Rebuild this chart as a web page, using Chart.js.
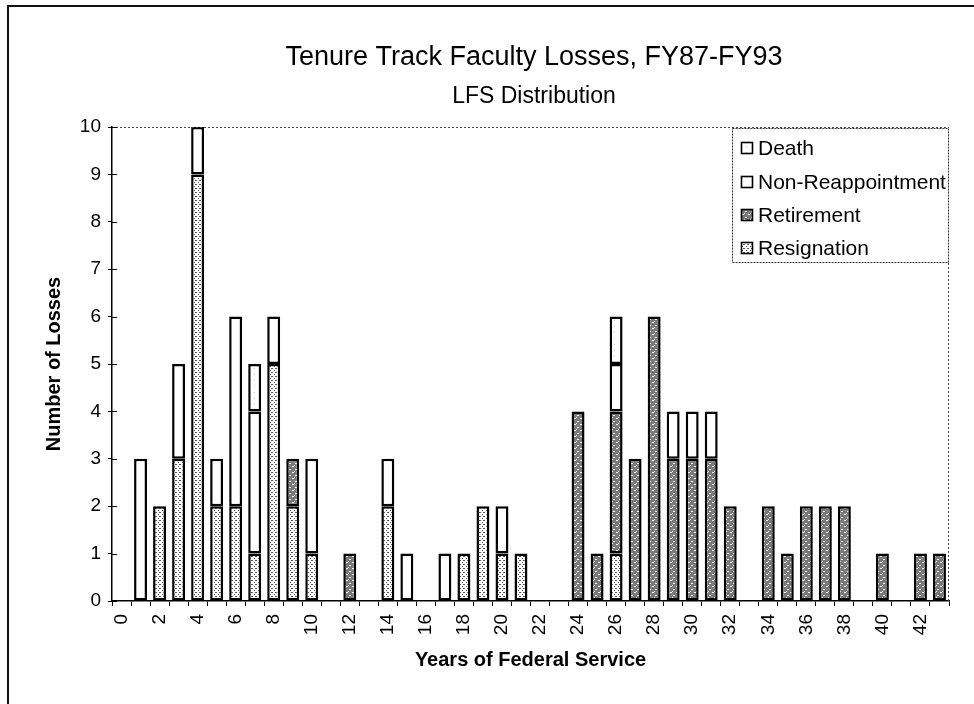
<!DOCTYPE html>
<html><head><meta charset="utf-8">
<script src="https://cdn.jsdelivr.net/npm/chart.js@4.4.1/dist/chart.umd.min.js"></script>
<style>
html,body{margin:0;padding:0;background:#fff;}
#wrap{position:relative;width:974px;height:704px;overflow:hidden;}
#frame{position:absolute;left:7px;top:5px;width:967px;height:699px;border-left:2px solid #111;border-top:2px solid #111;box-sizing:border-box;pointer-events:none;}
canvas{position:absolute;left:0;top:0;}
</style></head><body>
<div id="wrap"><canvas id="c" width="974" height="704"></canvas><div id="frame"></div></div>
<script>
const titleText = 'Tenure Track Faculty Losses, FY87-FY93';
const subtitleText = 'LFS Distribution';
const xAxisTitle = 'Years of Federal Service';
const yAxisTitle = 'Number of Losses';
const seriesNames = ['Resignation', 'Retirement', 'Non-Reappointment', 'Death'];

const years = [0,1,2,3,4,5,6,7,8,9,10,11,12,13,14,15,16,17,18,19,20,21,22,23,24,25,26,27,28,29,30,31,32,33,34,35,36,37,38,39,40,41,42,43];
//                   0 1 2 3 4 5 6 7 8 9 10 11 12 13 14 15 16 17 18 19 20 21 22 23 24 25 26 27 28 29 30 31 32 33 34 35 36 37 38 39 40 41 42 43
const resignation =      [0,0,2,3,9,2,2,1,5,2, 1, 0, 0, 0, 2, 0, 0, 0, 1, 2, 1, 1, 0, 0, 0, 0, 1, 0, 0, 0, 0, 0, 0, 0, 0, 0, 0, 0, 0, 0, 0, 0, 0, 0];
const retirement =       [0,0,0,0,0,0,0,0,0,1, 0, 0, 1, 0, 0, 0, 0, 0, 0, 0, 0, 0, 0, 0, 4, 1, 3, 3, 6, 3, 3, 3, 2, 0, 2, 1, 2, 2, 2, 0, 1, 0, 1, 1];
const nonReappointment = [0,3,0,2,1,1,4,3,1,0, 2, 0, 0, 0, 1, 1, 0, 1, 0, 0, 1, 0, 0, 0, 0, 0, 1, 0, 0, 1, 1, 1, 0, 0, 0, 0, 0, 0, 0, 0, 0, 0, 0, 0];
const death =            [0,0,0,0,0,0,0,1,0,0, 0, 0, 0, 0, 0, 0, 0, 0, 0, 0, 0, 0, 0, 0, 0, 0, 1, 0, 0, 0, 0, 0, 0, 0, 0, 0, 0, 0, 0, 0, 0, 0, 0, 0];
const yMin = 0, yMax = 10, yStep = 1;

const FONT = "'Liberation Sans', Arial, sans-serif";

function makePattern(size, bg, fg, pts) {
  const c = document.createElement('canvas');
  c.width = size; c.height = size;
  const g = c.getContext('2d');
  g.fillStyle = bg; g.fillRect(0, 0, size, size);
  g.fillStyle = fg;
  pts.forEach(p => g.fillRect(p[0], p[1], 1, 1));
  return g.createPattern(c, 'repeat');
}
const ctx = document.getElementById('c').getContext('2d');
const resPattern = makePattern(4, '#ffffff', '#555555', [[0,0],[2,2],[3,0]]);
const retPattern = makePattern(6, '#7a7a7a', '#ffffff', [[1,1],[2,1],[4,4],[5,4],[0,3]]);
const nonPattern = '#ffffff';
const deathPattern = makePattern(6, '#ffffff', '#cfcfcf', [[2,2]]);
const fills = [resPattern, retPattern, nonPattern, deathPattern];

const decorPlugin = {
  id: 'decor',
  afterDraw(chart) {
    const c = chart.ctx;
    const a = chart.chartArea;
    c.save();
    // dotted top & right border of plot area
    c.strokeStyle = '#444';
    c.lineWidth = 1;
    c.setLineDash([2, 2]);
    c.beginPath();
    c.moveTo(a.left, a.top + 0.5); c.lineTo(a.right, a.top + 0.5);
    c.moveTo(a.right - 0.5, a.top); c.lineTo(a.right - 0.5, a.bottom);
    c.stroke();
    c.setLineDash([]);
    // y ticks crossing into plot
    const ys = chart.scales.y;
    c.strokeStyle = '#000';
    c.lineWidth = 1.2;
    c.beginPath();
    ys.ticks.forEach(t => {
      const py = Math.round(ys.getPixelForValue(t.value)) + 0.5;
      c.moveTo(a.left, py); c.lineTo(a.left + 5, py);
    });
    c.stroke();
    // titles
    c.fillStyle = '#000';
    c.textAlign = 'center';
    c.textBaseline = 'alphabetic';
    const cx = 534;
    c.font = '27px ' + FONT;
    c.fillText(titleText, cx, 65);
    c.font = '23px ' + FONT;
    c.fillText(subtitleText, cx, 103);
    // legend
    const lx = 732, ly = 128, lw = a.right - lx, lh = 135;
    c.fillStyle = '#fff';
    c.fillRect(lx, ly, lw, lh);
    c.strokeStyle = '#333';
    c.lineWidth = 1;
    c.setLineDash([2, 1]);
    c.strokeRect(lx + 0.5, ly + 0.5, lw - 1, lh - 1);
    c.setLineDash([]);
    const ds = chart.data.datasets;
    const rows = [148, 182, 215, 248];
    c.font = '21px ' + FONT;
    c.textAlign = 'left';
    c.textBaseline = 'middle';
    for (let i = 0; i < ds.length; i++) {
      const d = ds[ds.length - 1 - i];
      const ry = rows[i];
      c.fillStyle = d.backgroundColor;
      c.fillRect(741, ry - 6, 12, 12);
      c.strokeStyle = '#000';
      c.lineWidth = 1.6;
      c.strokeRect(741.5, ry - 5.5, 11, 11);
      c.fillStyle = '#000';
      c.fillText(d.label, 758, ry + 1);
    }
    c.restore();
  }
};

new Chart(ctx, {
  type: 'bar',
  data: {
    labels: years.map(String),
    datasets: [resignation, retirement, nonReappointment, death].map((arr, i) => ({
      label: seriesNames[i],
      data: arr.map(v => (v === 0 ? null : v)),
      backgroundColor: fills[i],
      borderColor: '#000',
      borderWidth: 2.5,
      borderSkipped: false,
      barPercentage: 0.68,
      categoryPercentage: 1.0
    }))
  },
  options: {
    responsive: false,
    devicePixelRatio: 1,
    animation: false,
    layout: { padding: { left: 40, right: 25, top: 127, bottom: 0 } },
    plugins: { legend: { display: false }, title: { display: false }, tooltip: { enabled: false } },
    scales: {
      x: {
        stacked: true,
        offset: true,
        grid: { display: true, drawOnChartArea: false, drawTicks: true, tickLength: 5, color: '#000', offset: true },
        border: { display: true, color: '#000', width: 1.5 },
        ticks: {
          autoSkip: false, maxRotation: 90, minRotation: 90, padding: 8,
          color: '#000', font: { family: FONT, size: 19 },
          callback: (v, i) => (years[i] % 2 === 0 ? String(years[i]) : '')
        },
        title: { display: true, text: xAxisTitle, color: '#000', font: { family: FONT, size: 20, weight: 'bold' }, padding: { top: 0, bottom: 32 } },
        afterFit: s => { s.height = 103; }
      },
      y: {
        stacked: true,
        min: yMin, max: yMax,
        grid: { display: true, drawOnChartArea: false, drawTicks: true, tickLength: 4, color: '#000' },
        border: { display: true, color: '#000', width: 1.5 },
        ticks: { stepSize: yStep, padding: 7, color: '#000', font: { family: FONT, size: 19 } },
        title: { display: true, text: yAxisTitle, color: '#000', font: { family: FONT, size: 20, weight: 'bold' }, padding: { top: 2, bottom: 0 } },
        afterFit: s => { s.width = 72; }
      }
    }
  },
  plugins: [decorPlugin]
});
</script>
</body></html>
